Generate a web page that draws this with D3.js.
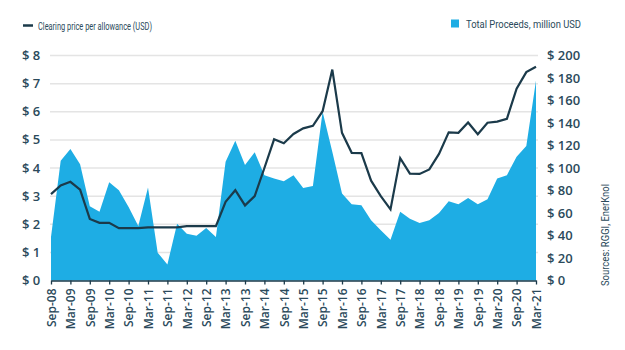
<!DOCTYPE html>
<html><head><meta charset="utf-8">
<script src="https://cdn.jsdelivr.net/npm/d3@7"></script>
<style>
html,body{margin:0;padding:0;background:#fff;}
svg{display:block;}
</style></head>
<body>
<svg id="chart" width="625" height="350"></svg>
<script>
const quarters = ["Sep-08","Dec-08","Mar-09","Jun-09","Sep-09","Dec-09","Mar-10","Jun-10","Sep-10","Dec-10",
"Mar-11","Jun-11","Sep-11","Dec-11","Mar-12","Jun-12","Sep-12","Dec-12","Mar-13","Jun-13",
"Sep-13","Dec-13","Mar-14","Jun-14","Sep-14","Dec-14","Mar-15","Jun-15","Sep-15","Dec-15",
"Mar-16","Jun-16","Sep-16","Dec-16","Mar-17","Jun-17","Sep-17","Dec-17","Mar-18","Jun-18",
"Sep-18","Dec-18","Mar-19","Jun-19","Sep-19","Dec-19","Mar-20","Jun-20","Sep-20","Dec-20","Mar-21"];
const clearingPrice = [3.07,3.38,3.51,3.23,2.19,2.05,2.05,1.86,1.86,1.86,
1.89,1.89,1.89,1.89,1.93,1.93,1.93,1.93,2.80,3.21,
2.67,3.00,4.00,5.02,4.88,5.21,5.41,5.50,6.02,7.50,
5.25,4.54,4.53,3.55,3.00,2.53,4.35,3.80,3.79,3.95,
4.50,5.27,5.25,5.62,5.20,5.61,5.65,5.75,6.82,7.41,7.60];
const totalProceeds = [38.6,106.4,116.8,103.4,66.0,61.2,87.4,80.3,65.4,48.5,
82.6,24.7,14.3,50.5,41.6,39.8,46.7,38.6,105.5,124.3,
102.6,113.9,93.6,90.7,88.3,93.6,82.3,84.1,150.1,114.4,
77.3,67.8,66.9,53.5,44.6,36.3,61.2,55.0,51.1,53.5,
60.0,70.5,67.8,73.4,67.8,72.2,90.7,93.6,110.0,119.5,177.8];
const leftTicks = [0,1,2,3,4,5,6,7,8];
const rightTicks = [0,20,40,60,80,100,120,140,160,180,200];
const xTickLabels = quarters.filter((q,i)=>i%2===0);
const legendPrice = "Clearing price per allowance (USD)";
const legendProceeds = "Total Proceeds, million USD";
const sourceText = "Sources: RGGI, EnerKnol";

const textColor = "#2b4a5b";
const lineColor = "#1b3a4a";
const areaColor = "#1eade4";
const narrowFont = "Roboto, 'Open Sans', sans-serif";

const svg = d3.select("#chart");
const x = d3.scalePoint().domain(quarters).range([51, 536]);
const yL = d3.scaleLinear().domain([0,8]).range([280.5, 55.5]);
const yR = d3.scaleLinear().domain([0,200]).range([280.5, 55.5]);

// gridlines
svg.append("g").selectAll("line").data(leftTicks.slice(1)).join("line")
  .attr("x1", 50).attr("x2", 538)
  .attr("y1", d=>yL(d)).attr("y2", d=>yL(d))
  .attr("stroke", "#e4e4e4").attr("stroke-width", 1.5);

// area
const area = d3.area().x((d,i)=>x(quarters[i])).y0(yR(0)).y1(d=>yR(d));
svg.append("path").datum(totalProceeds).attr("d", area).attr("fill", areaColor);

// line
const line = d3.line().x((d,i)=>x(quarters[i])).y(d=>yL(d));
svg.append("path").datum(clearingPrice).attr("d", line)
  .attr("fill","none").attr("stroke", lineColor).attr("stroke-width", 2.2)
  .attr("stroke-linejoin","miter");

// left axis labels
svg.append("g").selectAll("text").data(leftTicks).join("text")
  .attr("x", 22).attr("y", d=>yL(d)).attr("dy","0.35em")
  .attr("font-family","'Open Sans', sans-serif").attr("font-weight",600)
  .attr("font-size", 13).attr("fill", textColor)
  .text(d=>"$ " + d);

// right axis labels
svg.append("g").selectAll("text").data(rightTicks).join("text")
  .attr("x", 547).attr("y", d=>yR(d)).attr("dy","0.35em")
  .attr("font-family","'Open Sans', sans-serif").attr("font-weight",600)
  .attr("font-size", 13).attr("fill", textColor)
  .text(d=>"$ " + d);

// bottom axis
const xAxis = d3.axisBottom(x).tickValues(xTickLabels).tickSize(4).tickSizeOuter(0);
const gx = svg.append("g").attr("transform", `translate(0,${yL(0)})`).call(xAxis);
gx.select(".domain").attr("stroke", lineColor).attr("stroke-width", 1.5);
gx.selectAll(".tick line").attr("stroke", lineColor).attr("stroke-width", 1.3);
gx.selectAll(".tick text")
  .attr("transform","rotate(-90)")
  .attr("x", -8).attr("y", 0).attr("dy","0.35em")
  .attr("text-anchor","end")
  .attr("font-family","'Open Sans', sans-serif").attr("font-weight",600)
  .attr("font-size", 12).attr("fill", textColor);

// legends
svg.append("line").attr("x1",23).attr("x2",33).attr("y1",25.5).attr("y2",25.5)
  .attr("stroke", lineColor).attr("stroke-width", 2.5);
svg.append("text").attr("x",38).attr("y",29.5)
  .attr("font-family", narrowFont)
  .attr("font-size", 11.5).attr("fill", textColor)
  .attr("textLength", 114).attr("lengthAdjust","spacingAndGlyphs")
  .text(legendPrice);
svg.append("rect").attr("x",451).attr("y",19.5).attr("width",8).attr("height",8).attr("fill", areaColor);
svg.append("text").attr("x",466).attr("y",28)
  .attr("font-family", narrowFont)
  .attr("font-size", 11.5).attr("fill", textColor)
  .attr("textLength", 115).attr("lengthAdjust","spacingAndGlyphs")
  .text(legendProceeds);

// source
svg.append("text").attr("transform","translate(609,286) rotate(-90)")
  .attr("font-family", narrowFont)
  .attr("font-size", 11).attr("fill", textColor)
  .attr("textLength", 102).attr("lengthAdjust","spacingAndGlyphs")
  .text(sourceText);
</script>
</body></html>
